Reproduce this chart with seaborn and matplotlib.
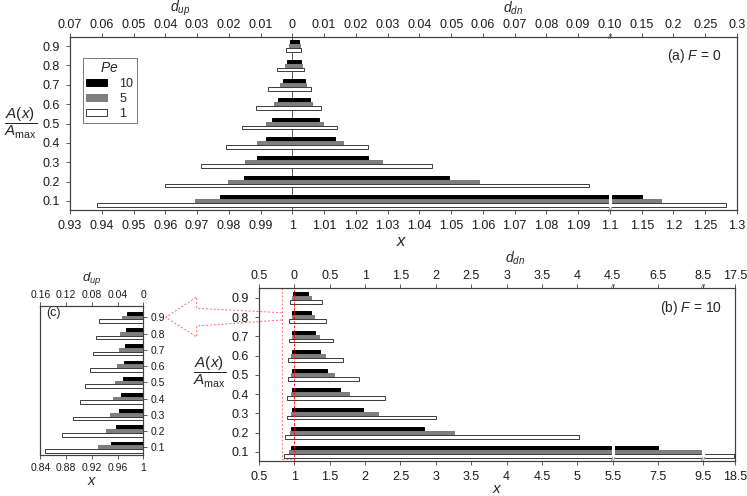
import numpy as np
import matplotlib
matplotlib.use("Agg")
import matplotlib.pyplot as plt
from matplotlib.patches import Patch, Rectangle
from matplotlib.lines import Line2D
import seaborn as sns

sns.set_theme(style="ticks")
plt.rcParams["font.family"] = ["Liberation Sans", "DejaVu Sans"]
plt.rcParams["mathtext.fontset"] = "custom"
plt.rcParams["mathtext.rm"] = "Liberation Sans"
plt.rcParams["mathtext.it"] = "Liberation Sans:italic"
plt.rcParams["mathtext.bf"] = "Liberation Sans:bold"

levels = [0.1, 0.2, 0.3, 0.4, 0.5, 0.6, 0.7, 0.8, 0.9]
pe_labels = ["10", "5", "1"]

# (a) F = 0 : upstream / downstream end of each interval, x
a_left_pe10 = [0.9773, 0.9847, 0.9888, 0.9916, 0.9937, 0.9955, 0.9970, 0.9982, 0.9993]
a_left_pe5 = [0.9695, 0.9797, 0.9851, 0.9890, 0.9918, 0.9941, 0.9961, 0.9976, 0.9988]
a_left_pe1 = [0.9384, 0.9600, 0.9714, 0.9790, 0.9843, 0.9887, 0.9924, 0.9953, 0.9979]
a_right_pe10 = [1.151, 1.0494, 1.0239, 1.0134, 1.0084, 1.0055, 1.0039, 1.0027, 1.0020]
a_right_pe5 = [1.180, 1.0589, 1.0283, 1.0158, 1.0097, 1.0063, 1.0043, 1.0031, 1.0023]
a_right_pe1 = [1.283, 1.0933, 1.0440, 1.0238, 1.0141, 1.0089, 1.0058, 1.0038, 1.0026]

# (b)/(c) F = 10
b_left_pe10 = [0.9493, 0.9575, 0.9622, 0.9653, 0.9679, 0.9700, 0.9715, 0.9736, 0.9741]
b_left_pe5 = [0.9301, 0.9415, 0.9482, 0.9529, 0.9565, 0.9591, 0.9622, 0.9643, 0.9663]
b_left_pe1 = [0.8472, 0.8742, 0.8902, 0.9016, 0.9099, 0.9172, 0.9223, 0.9270, 0.9316]
b_right_pe10 = [7.51, 2.828, 1.975, 1.641, 1.462, 1.363, 1.288, 1.236, 1.198]
b_right_pe5 = [9.45, 3.256, 2.187, 1.773, 1.556, 1.429, 1.345, 1.278, 1.236]
b_right_pe1 = [18.3, 5.025, 3.006, 2.281, 1.914, 1.692, 1.551, 1.452, 1.387]

a_ticks = [0.93, 0.94, 0.95, 0.96, 0.97, 0.98, 0.99, 1, 1.01, 1.02, 1.03, 1.04, 1.05,
           1.06, 1.07, 1.08, 1.09, 1.1, 1.15, 1.2, 1.25, 1.3]
a_top_labels = ["0.07", "0.06", "0.05", "0.04", "0.03", "0.02", "0.01", "0", "0.01", "0.02",
                "0.03", "0.04", "0.05", "0.06", "0.07", "0.08", "0.09", "0.10", "0.15", "0.2",
                "0.25", "0.3"]
b_ticks = [0.5, 1, 1.5, 2, 2.5, 3, 3.5, 4, 4.5, 5, 5.5, 7.5, 9.5, 18.5]
b_top_labels = ["0.5", "0", "0.5", "1", "1.5", "2", "2.5", "3", "3.5", "4", "4.5", "6.5", "8.5", "17.5"]
c_ticks = [0.84, 0.88, 0.92, 0.96, 1]
c_top_labels = ["0.16", "0.12", "0.08", "0.04", "0"]
y_ticks = [0.1, 0.2, 0.3, 0.4, 0.5, 0.6, 0.7, 0.8, 0.9]

fills = ["black", "#7f7f7f", "white"]
edges = ["black", "#7a7a7a", "#3a3a3a"]
spine_c = "#404040"
frac = r"$\dfrac{A(x)}{A_{\mathrm{max}}}$"


def fwd_a(x):
    x = np.asarray(x, float)
    return np.where(x <= 1.1, (x - 0.93) / 0.01, 17 + (x - 1.1) / 0.05)


def inv_a(u):
    u = np.asarray(u, float)
    return np.where(u <= 17, 0.93 + u * 0.01, 1.1 + (u - 17) * 0.05)


def fwd_b(x):
    x = np.asarray(x, float)
    return np.where(x <= 5.5, (x - 0.5) / 0.5,
                    np.where(x <= 9.5, 10 + (x - 5.5) / 2 * 1.28, 12.56 + (x - 9.5) / 9 * 0.9))


def inv_b(u):
    u = np.asarray(u, float)
    return np.where(u <= 10, 0.5 + u * 0.5,
                    np.where(u <= 12.56, 5.5 + (u - 10) / 1.28 * 2, 9.5 + (u - 12.56) / 0.9 * 9))


def draw_bars(ax, lefts, rights, offs, h):
    for k in range(3):
        lo = np.array(lefts[k])
        hi = np.array(rights[k])
        ax.barh(np.array(levels) + offs[k], hi - lo, left=lo, height=h,
                color=fills[k], edgecolor=edges[k], linewidth=0.7, zorder=3)


def style(ax, size, pad=4):
    for s in ax.spines.values():
        s.set_color(spine_c)
        s.set_linewidth(0.8)
    ax.tick_params(colors=spine_c, labelcolor="#1a1a1a", labelsize=size,
                   length=3, width=0.6, pad=pad)


def breaks(ax, xs, y0, y1):
    for xb in xs:
        ax.plot([xb, xb], [y0, y1], color="white", lw=2.2, zorder=4)
        for yy in (0, 1):
            ax.text(xb, yy, "//", transform=ax.get_xaxis_transform(), fontsize=5,
                    ha="center", va="center", color=spine_c, zorder=6, clip_on=False)


fig = plt.figure(figsize=(7.47, 4.96), dpi=100)

# ---------- (a) ----------
ax = fig.add_axes([0.0937, 0.5766, 0.8929, 0.3488])
ax.set_xscale("function", functions=(fwd_a, inv_a))
ax.axvline(1, color="#555555", lw=0.7, zorder=1)
draw_bars(ax, [a_left_pe10, a_left_pe5, a_left_pe1], [a_right_pe10, a_right_pe5, a_right_pe1],
          [0.021, 0.0, -0.021], 0.019)
breaks(ax, [1.1], 0.06, 0.135)
ax.set_xlim(0.93, 1.3)
ax.set_ylim(0.053, 0.947)
ax.set_xticks(a_ticks)
ax.set_xticklabels(["%g" % t for t in a_ticks])
ax.set_yticks(y_ticks)
ax.set_yticklabels(["%g" % t for t in y_ticks])
ax.set_xlabel("")
ax.set_ylabel("")
style(ax, 9, 4.5)
top = ax.twiny()
top.set_xscale("function", functions=(fwd_a, inv_a))
top.set_xlim(0.93, 1.3)
top.set_xticks(a_ticks)
top.set_xticklabels(a_top_labels)
style(top, 9, 1.5)
ax.text(0.165, 1.165, r"$d_{up}$", transform=ax.transAxes, ha="center", va="center", fontsize=10)
ax.text(0.664, 1.165, r"$d_{dn}$", transform=ax.transAxes, ha="center", va="center", fontsize=10)
ax.text(0.497, -0.183, r"$x$", transform=ax.transAxes, ha="center", va="center", fontsize=12)
ax.text(0.976, 0.89, r"(a) $F$ = 0", transform=ax.transAxes, ha="right", va="center", fontsize=10)
handles = [Patch(facecolor=fills[k], edgecolor=edges[k], linewidth=0.7) for k in range(3)]
leg = ax.legend(handles, pe_labels, title=r"$Pe$", loc="upper left", bbox_to_anchor=(0.019, 0.88),
                fontsize=9, title_fontsize=10, frameon=True, fancybox=False, framealpha=1,
                edgecolor="#777777", handlelength=1.7, handleheight=0.5, borderpad=0.25,
                labelspacing=0.25, handletextpad=1.0, borderaxespad=0)
leg.get_frame().set_linewidth(0.7)
fig.text(21 / 747, 1 - 123 / 496, frac, ha="center", va="center", fontsize=11)

# ---------- (b) ----------
bx = fig.add_axes([0.3467, 0.0706, 0.6372, 0.3488])
bx.set_xscale("function", functions=(fwd_b, inv_b))
draw_bars(bx, [b_left_pe10, b_left_pe5, b_left_pe1], [b_right_pe10, b_right_pe5, b_right_pe1],
          [0.021, 0.0, -0.021], 0.019)
breaks(bx, [5.5, 9.5], 0.06, 0.135)
bx.axvline(1, color="red", lw=0.8, ls=(0, (2, 2)), alpha=0.8, zorder=5)
bx.add_patch(Rectangle((0.822, 0.062), 1 - 0.822, 0.952 - 0.062, fill=False, edgecolor="red",
                       lw=0.7, ls=(0, (2, 2)), alpha=0.55, zorder=5))
bx.set_xlim(0.5, 18.5)
bx.set_ylim(0.053, 0.952)
bx.set_xticks(b_ticks)
bx.set_xticklabels(["%g" % t for t in b_ticks])
bx.set_yticks(y_ticks)
bx.set_yticklabels(["%g" % t for t in y_ticks])
style(bx, 9, 4.5)
btop = bx.twiny()
btop.set_xscale("function", functions=(fwd_b, inv_b))
btop.set_xlim(0.5, 18.5)
btop.set_xticks(b_ticks)
btop.set_xticklabels(b_top_labels)
style(btop, 9, 1.5)
bx.text(0.538, 1.17, r"$d_{dn}$", transform=bx.transAxes, ha="center", va="center", fontsize=10)
bx.text(0.5, -0.163, r"$x$", transform=bx.transAxes, ha="center", va="center", fontsize=11)
bx.text(0.972, 0.885, r"(b) $F$ = 10", transform=bx.transAxes, ha="right", va="center", fontsize=10)
fig.text(210 / 747, 1 - 372 / 496, frac, ha="center", va="center", fontsize=11)

# ---------- (c) ----------
cx = fig.add_axes([0.054, 0.082, 0.1379, 0.301])
draw_bars(cx, [b_left_pe10, b_left_pe5, b_left_pe1], [b_right_pe10, b_right_pe5, b_right_pe1],
          [0.023, 0.0, -0.023], 0.022)
cx.set_xlim(0.84, 1.0)
cx.set_ylim(0.05, 0.97)
cx.set_xticks(c_ticks)
cx.set_xticklabels(["%g" % t for t in c_ticks])
cx.set_yticks(y_ticks)
cx.set_yticklabels(["%g" % t for t in y_ticks])
cx.yaxis.tick_right()
style(cx, 7.5, 2.5)
ctop = cx.twiny()
ctop.set_xlim(0.84, 1.0)
ctop.set_xticks(c_ticks)
ctop.set_xticklabels(c_top_labels)
style(ctop, 7.5, 1.5)
cx.text(0.5, 1.185, r"$d_{up}$", transform=cx.transAxes, ha="center", va="center", fontsize=9.5)
cx.text(0.5, -0.17, r"$x$", transform=cx.transAxes, ha="center", va="center", fontsize=10.5)
cx.text(0.06, 0.955, "(c)", transform=cx.transAxes, ha="left", va="center", fontsize=9)

# dashed arrow linking the zoom box in (b) to (c)
pts = [(281.7, 312.7), (196.7, 308.3), (196.7, 297), (165.7, 317.3),
       (196.7, 337), (196.7, 326), (281.7, 320)]
fig.add_artist(Line2D([p[0] / 747 for p in pts], [1 - p[1] / 496 for p in pts],
                      transform=fig.transFigure, color="red", lw=0.7, ls=(0, (2, 2)), alpha=0.6))

fig.savefig("out.png", dpi=100)
